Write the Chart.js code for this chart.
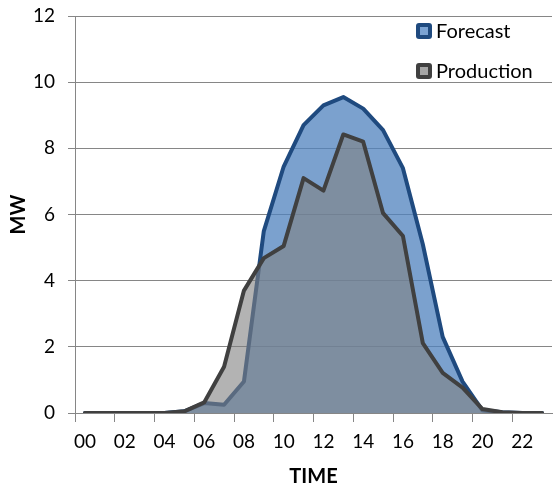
<!DOCTYPE html>
<html>
<head>
<meta charset="utf-8">
<script src="https://cdn.jsdelivr.net/npm/chart.js@4/dist/chart.umd.min.js"></script>
<style>
  html, body { margin: 0; padding: 0; background: #fff; }
  canvas { display: block; }
</style>
</head>
<body>
<canvas id="chart" width="553" height="487"></canvas>
<script>
// hourly values, MW
const hours = ['00','01','02','03','04','05','06','07','08','09','10','11',
               '12','13','14','15','16','17','18','19','20','21','22','23'];
const forecast = [0, 0, 0, 0, 0, 0.05, 0.3, 0.25, 0.95, 5.5, 7.45, 8.7,
                  9.3, 9.55, 9.2, 8.55, 7.4, 5.1, 2.3, 0.95, 0.08, 0.02, 0, 0];
const production = [0, 0, 0, 0, 0, 0.05, 0.32, 1.4, 3.7, 4.68, 5.05, 7.1,
                     6.72, 8.42, 8.2, 6.04, 5.35, 2.11, 1.21, 0.77, 0.12, 0.02, 0, 0];
const yTicks = [0, 2, 4, 6, 8, 10, 12];

const FONT = 'Lato, "Open Sans", sans-serif';
const GRID = '#868686';

// legend drawn inside the plot, top right
const insideLegend = {
    id: 'insideLegend',
    afterDraw(chart) {
        const ctx = chart.ctx;
        ctx.save();
        chart.data.datasets.forEach((ds, i) => {
            const x = 416, y = 23 + i * 40;
            ctx.fillStyle = ds.borderColor;
            ctx.beginPath();
            ctx.roundRect(x, y, 16, 16, 3);
            ctx.fill();
            ctx.fillStyle = ds.legendFill;
            ctx.fillRect(x + 4, y + 4, 8, 8);
            ctx.fillStyle = '#000';
            ctx.font = '20px ' + FONT;
            ctx.textBaseline = 'middle';
            ctx.fillText(ds.label, x + 20, y + 9);
        });
        ctx.restore();
    }
};

new Chart(document.getElementById('chart'), {
    type: 'line',
    data: {
        labels: hours,
        datasets: [
            {
                label: 'Forecast',
                data: forecast,
                borderColor: '#1f4a7f',
                backgroundColor: 'rgba(79,129,189,0.75)',
                legendFill: '#7ba3d3',
                fill: 'origin',
                order: 1
            },
            {
                label: 'Production',
                data: production,
                borderColor: '#404040',
                backgroundColor: 'rgba(128,128,128,0.6)',
                legendFill: '#a6a6a6',
                fill: 'origin',
                order: 0
            }
        ]
    },
    options: {
        responsive: false,
        animation: false,
        layout: { padding: { top: 16, right: 1, left: 0, bottom: 0 } },
        elements: {
            line: { tension: 0, borderWidth: 4, borderJoinStyle: 'round', borderCapStyle: 'round' },
            point: { radius: 0, hoverRadius: 0 }
        },
        plugins: {
            legend: { display: false },
            tooltip: { enabled: false }
        },
        scales: {
            x: {
                offset: true,
                afterFit: (scale) => {
                    scale.height = 74;
                    scale.paddingLeft = 0;
                    scale.paddingRight = 0;
                },
                grid: {
                    offset: true,
                    drawOnChartArea: false,
                    tickLength: 9,
                    color: (c) => (c.index % 2 === 0 ? GRID : 'rgba(0,0,0,0)')
                },
                border: { color: GRID },
                ticks: {
                    autoSkip: false,
                    maxRotation: 0,
                    color: '#000',
                    padding: 8,
                    font: { family: FONT, size: 19 },
                    callback: function (value, index) {
                        return index % 2 === 0 ? this.getLabelForValue(value) : '';
                    }
                },
                title: {
                    display: true,
                    text: 'TIME',
                    color: '#000',
                    padding: { top: 0, bottom: 0 },
                    font: { family: FONT, size: 20, weight: 'bold', lineHeight: 1 }
                }
            },
            y: {
                min: 0,
                max: 12,
                afterFit: (scale) => {
                    scale.width = 75;
                    scale.paddingTop = 0;
                    scale.paddingBottom = 0;
                },
                afterBuildTicks: (scale) => { scale.ticks = yTicks.map(v => ({ value: v })); },
                grid: { color: GRID, tickLength: 7 },
                border: { color: GRID },
                ticks: {
                    color: '#000',
                    padding: 13,
                    font: { family: FONT, size: 19 }
                },
                title: {
                    display: true,
                    text: 'MW',
                    color: '#000',
                    padding: { top: 9, bottom: 0 },
                    font: { family: FONT, size: 20, weight: 'bold', lineHeight: 1 }
                }
            }
        }
    },
    plugins: [insideLegend]
});
</script>
</body>
</html>
